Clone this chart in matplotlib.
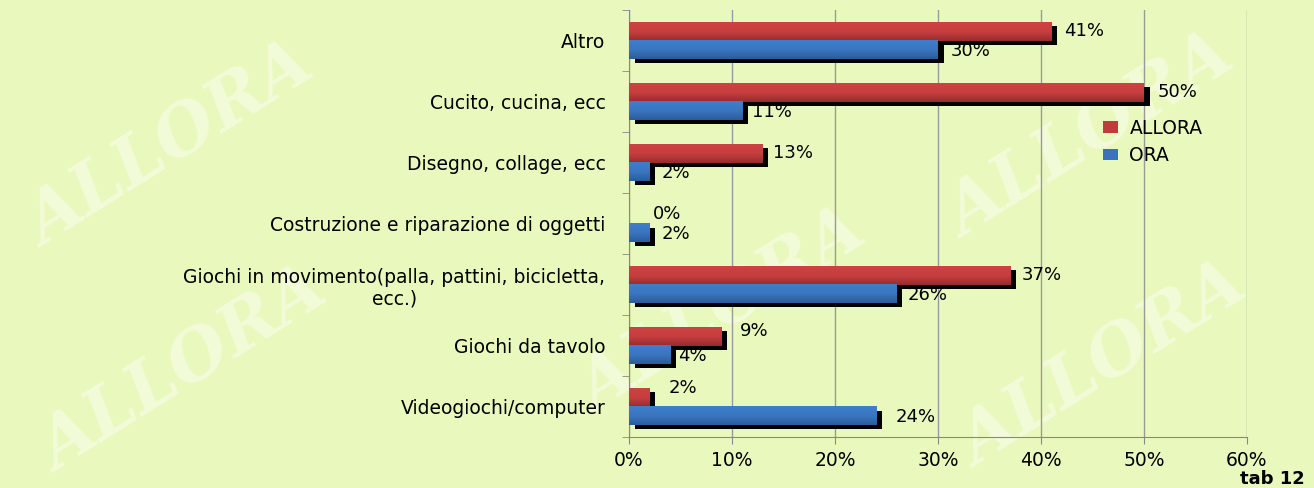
import matplotlib.pyplot as plt
import matplotlib.patheffects as pe
from matplotlib.patches import Patch
from matplotlib.colors import LinearSegmentedColormap
import numpy as np

# data (bottom to top)
categories = ["Videogiochi/computer", "Giochi da tavolo",
              "Giochi in movimento(palla, pattini, bicicletta,\necc.)",
              "Costruzione e riparazione di oggetti", "Disegno, collage, ecc",
              "Cucito, cucina, ecc", "Altro"]
allora = [2, 9, 37, 0, 13, 50, 41]
ora = [24, 4, 26, 2, 2, 11, 30]

bg = "#E9F9BE"
red = "#C23B3C"
blue = "#3A73BC"

fig = plt.figure(figsize=(13.14, 4.88), dpi=100, facecolor=bg)
ax = fig.add_axes([0.4787, 0.1045, 0.4703, 0.875])
ax.set_facecolor("none")

# faint watermarks
wm = dict(color="white", alpha=0.4, fontsize=50, fontweight="bold", family="DejaVu Serif",
          style="italic", ha="center", va="center", zorder=-5)
for x, yy in [(0.13, 0.70), (0.83, 0.72), (0.55, 0.36), (0.14, 0.24), (0.84, 0.25)]:
    fig.text(x, yy, "ALLORA", rotation=32, **wm)

y = np.arange(len(categories))
h = 0.3
shadow = [pe.SimplePatchShadow(offset=(4, -3), shadow_rgbFace="black", alpha=1), pe.Normal()]
b1 = ax.barh(y + h / 2, allora, height=h, color=red, zorder=3)
b2 = ax.barh(y - h / 2, ora, height=h, color=blue, zorder=3)

# vertical gradient on each bar
grad = np.linspace(0, 1, 50).reshape(-1, 1)
cm_red = LinearSegmentedColormap.from_list("r", ["#CD4243", "#C73E3F", "#972C2E"])
cm_blue = LinearSegmentedColormap.from_list("b", ["#3E7FCC", "#3A76C0", "#2C5C9B"])
for bars, cm in [(b1, cm_red), (b2, cm_blue)]:
    for b in bars:
        b.set_path_effects(shadow)
        x0, y0, w, hh = b.get_x(), b.get_y(), b.get_width(), b.get_height()
        if w > 0:
            ax.imshow(grad, extent=[x0, x0 + w, y0, y0 + hh], cmap=cm, aspect="auto",
                      origin="upper", zorder=3.5)

# value labels (offsets in points)
dx_allora = [14, 13, 8, 17, 7, 10, 9]
dy_allora = [7, 4, 0, 0, 0, 0, 0]
dx_ora = [14, 6, 8, 9, 9, 7, 9]
lab = dict(fontsize=13, va="center", ha="left", zorder=4, textcoords="offset points")
for i in range(len(categories)):
    ax.annotate(f"{allora[i]}%", (allora[i], y[i] + h / 2), xytext=(dx_allora[i], dy_allora[i]), **lab)
    ax.annotate(f"{ora[i]}%", (ora[i], y[i] - h / 2), xytext=(dx_ora[i], -1), **lab)

ax.set_xlim(0, 60)
ax.set_ylim(-0.5, len(categories) - 0.5)
ax.set_xticks(range(0, 61, 10))
ax.set_xticklabels([f"{v}%" for v in range(0, 61, 10)], fontsize=13.5)
ax.set_yticks(y)
ax.set_yticklabels(categories, fontsize=13.5, multialignment="center")
ax.tick_params(axis="y", length=0, pad=17)
ax.set_yticks(np.arange(-0.5, len(categories), 1), minor=True)
ax.tick_params(axis="y", which="minor", length=5, color="#888888")
ax.tick_params(axis="x", length=5, color="#888888", pad=5)
ax.grid(axis="x", color="#999999", lw=1, zorder=1)
for s in ["top", "right"]:
    ax.spines[s].set_visible(False)
for s in ["left", "bottom"]:
    ax.spines[s].set_color("#888888")

handles = [Patch(facecolor=red, label="ALLORA"), Patch(facecolor=blue, label="ORA")]
leg = ax.legend(handles=handles, loc="upper left", bbox_to_anchor=(0.74, 0.785), frameon=False,
                fontsize=13.5, handlelength=0.8, handleheight=0.55, labelspacing=0.45,
                handletextpad=0.6)
leg.set_zorder(6)

fig.text(0.993, 0.0, "tab 12", fontsize=13, fontweight="bold", ha="right", va="bottom")

fig.savefig("out.png", dpi=100, facecolor=bg)
